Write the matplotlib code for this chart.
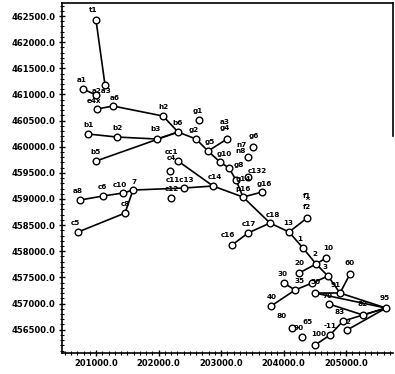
import matplotlib
matplotlib.use("Agg")
import matplotlib.pyplot as plt
from matplotlib.ticker import MultipleLocator, FormatStrFormatter

# Survey stations: name, easting (X), northing (Y)
names = ["t1", "a3", "a1", "a2", "e4x", "a6", "h2", "b6", "b1", "b2", "b3", "b5",
         "g1", "g2", "g5", "g4", "g10", "g8", "g14", "g6", "n8", "c132", "g16", "p16",
         "c14", "c4", "c1", "c13", "c12", "c7", "c10", "c6", "a8", "c8", "c5",
         "c18", "c17", "c16", "13", "f2", "1", "2", "10", "20", "3", "30", "35", "40",
         "50", "91", "60", "70", "95", "83", "82", "n2", "n2b", "11", "100", "90", "n0"]
east = [201000, 201144, 200792, 201000, 201016, 201272, 202072, 202312, 200872, 201336, 201976, 201000,
        202648, 202600, 202792, 203096, 202984, 203128, 203240, 203512, 203432, 203432, 203656, 203352,
        202872, 202312, 202184, 202408, 202200, 201592, 201432, 201112, 200744, 201464, 200712,
        203784, 203432, 203176, 204088, 204376, 204312, 204520, 204680, 204248, 204712, 204008, 204184, 203800,
        204456, 204904, 205064, 204504, 205640, 204728, 205272, 204952, 205016, 204744, 204296, 204136, 204504]
north = [462420, 461180, 461104, 460989, 460721, 460778, 460587, 460281, 460243, 460185, 460147, 459726,
         460510, 460147, 459917, 460147, 459707, 459592, 459363, 459994, 459803, 459420, 459133, 459037,
         459248, 459726, 459535, 459210, 459018, 459171, 459114, 459057, 458980, 458731, 458368,
         458540, 458349, 458119, 458368, 458636, 458062, 457756, 457871, 457584, 457526, 457392, 457258, 456952,
         457392, 457201, 457565, 457201, 456914, 456991, 456780, 456665, 456493, 456398, 456360, 456531, 456206]

# Connections between stations
edges = [("t1", "a3"), ("a1", "a2"), ("e4x", "a6"), ("a6", "h2"), ("h2", "b6"),
         ("b1", "b2"), ("b2", "b3"), ("b3", "b6"), ("b5", "b6"),
         ("b6", "g2"), ("g2", "g5"), ("g5", "g10"), ("g10", "g8"), ("g8", "g14"), ("g14", "p16"),
         ("g5", "g4"), ("p16", "g16"), ("c4", "c14"),
         ("a8", "c6"), ("c6", "c10"), ("c10", "c7"), ("c7", "c13"), ("c13", "c14"), ("c14", "p16"),
         ("c5", "c8"), ("c8", "c7"),
         ("p16", "c18"), ("c18", "13"), ("13", "f2"), ("13", "1"), ("1", "2"),
         ("2", "10"), ("2", "20"), ("2", "3"), ("c16", "c17"), ("c17", "c18"),
         ("40", "35"), ("35", "50"), ("50", "3"), ("30", "35"),
         ("3", "91"), ("60", "91"), ("70", "91"), ("91", "95"), ("70", "95"),
         ("83", "82"), ("82", "95"), ("n0", "11"), ("11", "n2"), ("n2", "95"), ("n2b", "95")]

# Station labels: text and offset (pixels) from the marker
labels = {
    "t1": ("t1", (-3, 10)), "a3": ("a2a3", (-3, -6)), "a1": ("a1", (-1, 9)),
    "e4x": ("e4x", (-3, 8)), "a6": ("a6", (2, 8)), "h2": ("h2", (0, 9)),
    "b6": ("b6", (0, 9)), "b1": ("b1", (0, 9)), "b2": ("b2", (0, 9)),
    "b3": ("b3", (-2, 10)), "b5": ("b5", (0, 9)), "g1": ("g1", (-1, 9)),
    "g2": ("g2", (-2, 9)), "g5": ("g5", (2, 9)), "g4": ("a3\ng4", (-2, 14)),
    "g10": ("g10", (4, 8)), "g8": ("g8", (10, 3)), "g14": ("g14", (7, 1)),
    "g6": ("g6", (1, 11)), "n8": ("n7\nn8", (-7, 9)), "c132": ("c132", (9, 6)),
    "g16": ("g16", (2, 8)), "p16": ("p16", (0, 8)), "c14": ("c14", (2, 9)),
    "c4": ("cc1\nc4", (-7, 6)), "c1": ("c11c13", (10, -9)), "c12": ("c12", (1, 9)),
    "c7": ("7", (1, 8)), "c10": ("c10", (-3, 8)), "c6": ("c6", (-1, 9)),
    "a8": ("a8", (-2, 9)), "c8": ("c8", (0, 9)), "c5": ("c5", (-3, 9)),
    "c18": ("c18", (3, 8)), "c17": ("c17", (1, 9)), "c16": ("c16", (-4, 10)),
    "13": ("13", (-1, 9)), "f2": ("f1\n^\nf2", (0, 17)), "1": ("1", (-3, 9)),
    "2": ("2", (-1, 10)), "10": ("10", (2, 10)), "20": ("20", (0, 10)),
    "3": ("3", (-3, 9)), "30": ("30", (-2, 9)), "35": ("35", (5, 9)),
    "40": ("40", (1, 9)), "50": ("50", (3, 1)), "91": ("91", (-4, 8)),
    "60": ("60", (0, 11)), "70": ("70", (12, -3)), "95": ("95", (-1, 10)),
    "83": ("83", (11, -8)), "82": ("82", (0, 11)), "n2": ("2", (5, -1)),
    "11": ("-11", (0, 9)), "100": ("100", (17, 3)), "90": ("90", (7, 0)),
}
extra_text = [("80", 203976, 456770), ("65", 204392, 456655)]

pos = {n: (x, y) for n, x, y in zip(names, east, north)}

fig = plt.figure(figsize=(3.95, 3.74), dpi=100)
ax = fig.add_axes([0.157, 0.056, 0.838, 0.936])

for a, b in edges:
    (x0, y0), (x1, y1) = pos[a], pos[b]
    ax.plot([x0, x1], [y0, y1], color="black", lw=1.2, zorder=2)

ax.plot(east, north, linestyle="none", marker="o", markersize=4.8,
        markerfacecolor="white", markeredgecolor="black", markeredgewidth=1.0, zorder=3)

for n, (txt, off) in labels.items():
    ax.annotate(txt, pos[n], xytext=off, textcoords="offset pixels",
                ha="center", va="center", fontsize=5.2, fontweight="bold",
                linespacing=0.9, zorder=4)
for txt, x, y in extra_text:
    ax.text(x, y, txt, ha="center", va="center", fontsize=5.2, fontweight="bold")

ax.set_xlim(200456, 205752)
ax.set_ylim(456053, 462749)
ax.xaxis.set_minor_locator(MultipleLocator(100))
ax.yaxis.set_minor_locator(MultipleLocator(100))
ax.xaxis.set_major_formatter(FormatStrFormatter("%.1f"))
ax.yaxis.set_major_formatter(FormatStrFormatter("%.1f"))
ax.set_xticks([201000, 202000, 203000, 204000, 205000])
ax.set_yticks([456500 + 500 * i for i in range(13)])
ax.tick_params(which="major", direction="inout", length=5, width=1.0, labelsize=6, pad=2)
ax.tick_params(which="minor", direction="inout", length=3, width=0.8)
for lab in ax.get_xticklabels() + ax.get_yticklabels():
    lab.set_fontweight("bold")

for side in ["left", "bottom", "top", "right"]:
    ax.spines[side].set_linewidth(1.2)
ax.spines["right"].set_bounds(460200, 462749)

fig.savefig("out.png", dpi=100)
